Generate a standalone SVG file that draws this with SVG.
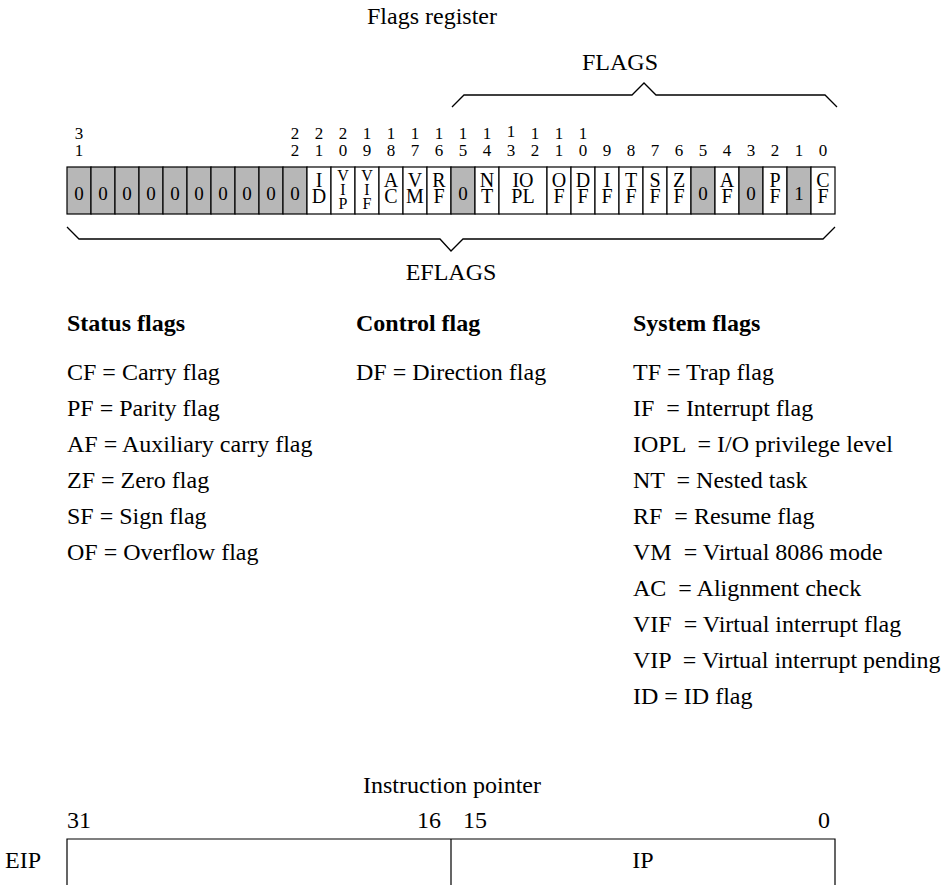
<svg xmlns="http://www.w3.org/2000/svg" width="945" height="885" viewBox="0 0 945 885">
<style>
text{font-family:"Liberation Serif","Times New Roman",serif;fill:#000}
.c{fill:#fff;stroke:#000;stroke-width:1.2}
.g{fill:#b7b7b7;stroke:#000;stroke-width:1.2}
.l{font-size:20px;text-anchor:middle}
.s{font-size:16px;text-anchor:middle}
.z{font-size:19px;text-anchor:middle}
.n{font-size:17px;text-anchor:middle}
.t{font-size:24px}
.m{font-size:24px;text-anchor:middle}
.b{font-weight:bold}
.br{fill:none;stroke:#000;stroke-width:1.3}
.bx{fill:none;stroke:#000;stroke-width:1.2}
</style>
<rect width="945" height="885" fill="#fff"/>
<g id="titles">
<text class="m" x="432" y="24">Flags register</text>
<text class="m" x="620" y="70">FLAGS</text>
<text class="m" x="451" y="280">EFLAGS</text>
</g>
<g id="bit-numbers">
<text class="n" x="79" y="139">3<tspan x="79" dy="17">1</tspan></text>
<text class="n" x="295" y="139">2<tspan x="295" dy="17">2</tspan></text>
<text class="n" x="319" y="139">2<tspan x="319" dy="17">1</tspan></text>
<text class="n" x="343" y="139">2<tspan x="343" dy="17">0</tspan></text>
<text class="n" x="367" y="139">1<tspan x="367" dy="17">9</tspan></text>
<text class="n" x="391" y="139">1<tspan x="391" dy="17">8</tspan></text>
<text class="n" x="415" y="139">1<tspan x="415" dy="17">7</tspan></text>
<text class="n" x="439" y="139">1<tspan x="439" dy="17">6</tspan></text>
<text class="n" x="463" y="139">1<tspan x="463" dy="17">5</tspan></text>
<text class="n" x="487" y="139">1<tspan x="487" dy="17">4</tspan></text>
<text class="n" x="511" y="137">1<tspan x="511" dy="19">3</tspan></text>
<text class="n" x="535" y="139">1<tspan x="535" dy="17">2</tspan></text>
<text class="n" x="559" y="139">1<tspan x="559" dy="17">1</tspan></text>
<text class="n" x="583" y="139">1<tspan x="583" dy="17">0</tspan></text>
<text class="n" x="607" y="156">9</text>
<text class="n" x="631" y="156">8</text>
<text class="n" x="655" y="156">7</text>
<text class="n" x="679" y="156">6</text>
<text class="n" x="703" y="156">5</text>
<text class="n" x="727" y="156">4</text>
<text class="n" x="751" y="156">3</text>
<text class="n" x="775" y="156">2</text>
<text class="n" x="799" y="156">1</text>
<text class="n" x="823" y="156">0</text>
</g>
<g id="register">
<g id="bit31"><rect class="g" x="67" y="167" width="24" height="47"/><text class="z" x="79" y="200">0</text></g>
<g id="bit30"><rect class="g" x="91" y="167" width="24" height="47"/><text class="z" x="103" y="200">0</text></g>
<g id="bit29"><rect class="g" x="115" y="167" width="24" height="47"/><text class="z" x="127" y="200">0</text></g>
<g id="bit28"><rect class="g" x="139" y="167" width="24" height="47"/><text class="z" x="151" y="200">0</text></g>
<g id="bit27"><rect class="g" x="163" y="167" width="24" height="47"/><text class="z" x="175" y="200">0</text></g>
<g id="bit26"><rect class="g" x="187" y="167" width="24" height="47"/><text class="z" x="199" y="200">0</text></g>
<g id="bit25"><rect class="g" x="211" y="167" width="24" height="47"/><text class="z" x="223" y="200">0</text></g>
<g id="bit24"><rect class="g" x="235" y="167" width="24" height="47"/><text class="z" x="247" y="200">0</text></g>
<g id="bit23"><rect class="g" x="259" y="167" width="24" height="47"/><text class="z" x="271" y="200">0</text></g>
<g id="bit22"><rect class="g" x="283" y="167" width="24" height="47"/><text class="z" x="295" y="200">0</text></g>
<g id="bit21-ID"><rect class="c" x="307" y="167" width="24" height="47"/><text class="l" x="319" y="187">I<tspan x="319" dy="16">D</tspan></text></g>
<g id="bit20-VIP"><rect class="c" x="331" y="167" width="24" height="47"/><text class="s" x="343" y="181">V<tspan x="343" dy="14">I</tspan><tspan x="343" dy="14">P</tspan></text></g>
<g id="bit19-VIF"><rect class="c" x="355" y="167" width="24" height="47"/><text class="s" x="367" y="181">V<tspan x="367" dy="14">I</tspan><tspan x="367" dy="14">F</tspan></text></g>
<g id="bit18-AC"><rect class="c" x="379" y="167" width="24" height="47"/><text class="l" x="391" y="187">A<tspan x="391" dy="16">C</tspan></text></g>
<g id="bit17-VM"><rect class="c" x="403" y="167" width="24" height="47"/><text class="l" x="415" y="187">V<tspan x="415" dy="16">M</tspan></text></g>
<g id="bit16-RF"><rect class="c" x="427" y="167" width="24" height="47"/><text class="l" x="439" y="187">R<tspan x="439" dy="16">F</tspan></text></g>
<g id="bit15"><rect class="g" x="451" y="167" width="24" height="47"/><text class="z" x="463" y="200">0</text></g>
<g id="bit14-NT"><rect class="c" x="475" y="167" width="24" height="47"/><text class="l" x="487" y="187">N<tspan x="487" dy="16">T</tspan></text></g>
<g id="bit13-12-IOPL"><rect class="c" x="499" y="167" width="48" height="47"/><text class="l" x="523" y="187">IO<tspan x="523" dy="16">PL</tspan></text></g>
<g id="bit11-OF"><rect class="c" x="547" y="167" width="24" height="47"/><text class="l" x="559" y="187">O<tspan x="559" dy="16">F</tspan></text></g>
<g id="bit10-DF"><rect class="c" x="571" y="167" width="24" height="47"/><text class="l" x="583" y="187">D<tspan x="583" dy="16">F</tspan></text></g>
<g id="bit9-IF"><rect class="c" x="595" y="167" width="24" height="47"/><text class="l" x="607" y="187">I<tspan x="607" dy="16">F</tspan></text></g>
<g id="bit8-TF"><rect class="c" x="619" y="167" width="24" height="47"/><text class="l" x="631" y="187">T<tspan x="631" dy="16">F</tspan></text></g>
<g id="bit7-SF"><rect class="c" x="643" y="167" width="24" height="47"/><text class="l" x="655" y="187">S<tspan x="655" dy="16">F</tspan></text></g>
<g id="bit6-ZF"><rect class="c" x="667" y="167" width="24" height="47"/><text class="l" x="679" y="187">Z<tspan x="679" dy="16">F</tspan></text></g>
<g id="bit5"><rect class="g" x="691" y="167" width="24" height="47"/><text class="z" x="703" y="200">0</text></g>
<g id="bit4-AF"><rect class="c" x="715" y="167" width="24" height="47"/><text class="l" x="727" y="187">A<tspan x="727" dy="16">F</tspan></text></g>
<g id="bit3"><rect class="g" x="739" y="167" width="24" height="47"/><text class="z" x="751" y="200">0</text></g>
<g id="bit2-PF"><rect class="c" x="763" y="167" width="24" height="47"/><text class="l" x="775" y="187">P<tspan x="775" dy="16">F</tspan></text></g>
<g id="bit1"><rect class="g" x="787" y="167" width="24" height="47"/><text class="z" x="799" y="200">1</text></g>
<g id="bit0-CF"><rect class="c" x="811" y="167" width="24" height="47"/><text class="l" x="823" y="187">C<tspan x="823" dy="16">F</tspan></text></g>
</g>
<g id="connectors">
<polyline class="br" points="452,107 464,95 632,95 644,83 656,95 825,95 837,107"/>
<polyline class="br" points="67,227 79,239 440,239 451,251 463,239 823,239 835,227"/>
</g>
<g id="status-flags">
<text class="t b" x="67" y="331">Status flags</text>
<text class="t" x="67" y="380">CF = Carry flag</text>
<text class="t" x="67" y="416">PF = Parity flag</text>
<text class="t" x="67" y="452">AF = Auxiliary carry flag</text>
<text class="t" x="67" y="488">ZF = Zero flag</text>
<text class="t" x="67" y="524">SF = Sign flag</text>
<text class="t" x="67" y="560">OF = Overflow flag</text>
</g>
<g id="control-flag">
<text class="t b" x="356" y="331">Control flag</text>
<text class="t" x="356" y="380">DF = Direction flag</text>
</g>
<g id="system-flags">
<text class="t b" x="633" y="331">System flags</text>
<text class="t" x="633" y="380">TF = Trap flag</text>
<text class="t" x="633" y="416" xml:space="preserve">IF  = Interrupt flag</text>
<text class="t" x="633" y="452" xml:space="preserve">IOPL  = I/O privilege level</text>
<text class="t" x="633" y="488" xml:space="preserve">NT  = Nested task</text>
<text class="t" x="633" y="524" xml:space="preserve">RF  = Resume flag</text>
<text class="t" x="633" y="560" xml:space="preserve">VM  = Virtual 8086 mode</text>
<text class="t" x="633" y="596" xml:space="preserve">AC  = Alignment check</text>
<text class="t" x="633" y="632" xml:space="preserve">VIF  = Virtual interrupt flag</text>
<text class="t" x="633" y="668" xml:space="preserve">VIP  = Virtual interrupt pending</text>
<text class="t" x="633" y="704">ID = ID flag</text>
</g>
<g id="eip">
<text class="m" x="452" y="793">Instruction pointer</text>
<text class="t" x="67" y="828">31</text>
<text class="m" x="429" y="828">16</text>
<text class="m" x="475" y="828">15</text>
<text class="m" x="824" y="828">0</text>
<text class="t" x="5" y="868">EIP</text>
<path class="bx" d="M67,890 V839 H835 V890 M451,839 V890"/>
<text class="m" x="643" y="868">IP</text>
</g>
</svg>
